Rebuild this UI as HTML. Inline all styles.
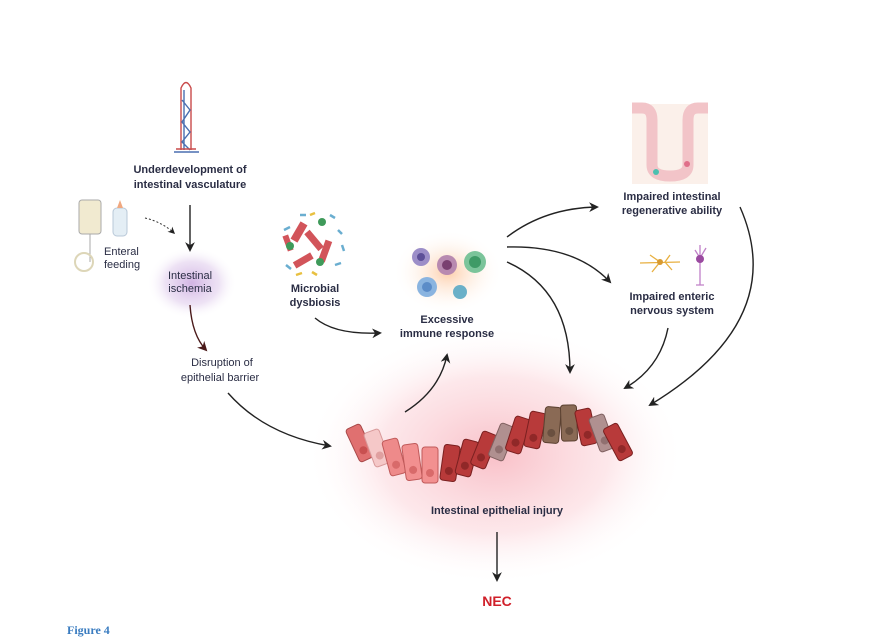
<!DOCTYPE html>
<html><head><meta charset="utf-8"><style>
html,body{margin:0;padding:0;background:#fff;}
svg{display:block;}
text{font-family:"Liberation Sans",sans-serif;fill:#2a2d44;}
.b{font-weight:bold;font-size:11px;}
.r{font-size:11px;}
</style></head><body>
<svg width="878" height="638" viewBox="0 0 878 638" xmlns="http://www.w3.org/2000/svg">
<defs>
<radialGradient id="pink" cx="50%" cy="50%" r="50%">
<stop offset="0" stop-color="#f7b0ba" stop-opacity="0.8"/>
<stop offset="0.6" stop-color="#fbd0d6" stop-opacity="0.5"/>
<stop offset="1" stop-color="#fff" stop-opacity="0"/>
</radialGradient>
<radialGradient id="purp" cx="50%" cy="50%" r="50%">
<stop offset="0" stop-color="#d2b4e4" stop-opacity="1"/>
<stop offset="0.6" stop-color="#e6d6f0" stop-opacity="0.7"/>
<stop offset="1" stop-color="#fff" stop-opacity="0"/>
</radialGradient>
<radialGradient id="orng" cx="50%" cy="50%" r="50%">
<stop offset="0" stop-color="#fcc8a0" stop-opacity="0.9"/>
<stop offset="1" stop-color="#fff" stop-opacity="0"/>
</radialGradient>
<marker id="ah" viewBox="0 0 10 10" refX="8" refY="5" markerWidth="7" markerHeight="7" orient="auto">
<path d="M0,0 L10,5 L0,10 L3,5 z" fill="#222"/></marker>
<marker id="ahr" viewBox="0 0 10 10" refX="8" refY="5" markerWidth="7" markerHeight="7" orient="auto">
<path d="M0,0 L10,5 L0,10 L3,5 z" fill="#4a1a1a"/></marker>
</defs>

<ellipse cx="495" cy="455" rx="190" ry="130" fill="url(#pink)"/>
<ellipse cx="192" cy="283" rx="45" ry="36" fill="url(#purp)"/>
<ellipse cx="448" cy="272" rx="55" ry="42" fill="url(#orng)"/>

<!-- vasculature -->
<g fill="none" stroke-width="1.4">
<path d="M181,150 L181,88 Q186,77 191,88 L191,150" stroke="#c94a4a"/>
<path d="M184,150 L184,90 M182,100 L190,110 L182,122 L190,132 L182,142 L190,150" stroke="#4a6fb0"/>
<path d="M174,152 L199,152" stroke="#4a6fb0"/>
<path d="M176,149 L196,149" stroke="#c94a4a"/>
</g>
<text class="b" x="190" y="173" text-anchor="middle">Underdevelopment of</text>
<text class="b" x="190" y="188" text-anchor="middle">intestinal vasculature</text>

<!-- feeding -->
<rect x="79" y="200" width="22" height="34" rx="3" fill="#f1ead0" stroke="#aaa"/>
<path d="M90,234 L90,262" stroke="#aaa"/>
<circle cx="84" cy="262" r="9" fill="none" stroke="#ddd6b8" stroke-width="2"/>
<rect x="113" y="208" width="14" height="28" rx="4" fill="#e4eef5" stroke="#b8c8d8"/>
<path d="M117,208 L120,200 L123,208z" fill="#f0a880"/>
<text class="r" x="104" y="255">Enteral</text>
<text class="r" x="104" y="268">feeding</text>
<path d="M145,218 Q162,222 174,233" fill="none" stroke="#333" stroke-dasharray="2,2" marker-end="url(#ah)"/>

<text class="r" x="190" y="279" text-anchor="middle">Intestinal</text>
<text class="r" x="190" y="292" text-anchor="middle">ischemia</text>
<text class="r" x="222" y="366" text-anchor="middle">Disruption of</text>
<text class="r" x="220" y="381" text-anchor="middle">epithelial barrier</text>

<!-- microbes -->
<g>
<rect x="295" y="222" width="8" height="20" fill="#d2545a" transform="rotate(30 299 232)"/>
<rect x="310" y="230" width="7" height="22" fill="#d2545a" transform="rotate(-40 313 240)"/>
<rect x="322" y="240" width="7" height="22" fill="#d2545a" transform="rotate(20 325 250)"/>
<rect x="300" y="250" width="7" height="20" fill="#d2545a" transform="rotate(60 303 260)"/>
<rect x="285" y="235" width="6" height="16" fill="#d2545a" transform="rotate(-20 288 243)"/>
<circle cx="290" cy="246" r="4" fill="#3f9a5a"/><circle cx="322" cy="222" r="4" fill="#3f9a5a"/>
<circle cx="320" cy="262" r="4" fill="#3f9a5a"/>
<path d="M284,230 l6,-3 M338,230 l4,4 M286,265 l5,4 M335,265 l6,-2 M300,215 l6,0 M330,215 l5,3 M342,245 l2,6" stroke="#6aaed0" stroke-width="2.5"/>
<path d="M296,275 l6,-2 M312,272 l5,3 M310,215 l5,-2" stroke="#e8c040" stroke-width="2.5"/>
</g>
<text class="b" x="315" y="292" text-anchor="middle">Microbial</text>
<text class="b" x="315" y="306" text-anchor="middle">dysbiosis</text>

<!-- immune cells -->
<circle cx="421" cy="257" r="9" fill="#9c8ec8"/><circle cx="421" cy="257" r="4" fill="#5d4f98"/>
<circle cx="447" cy="265" r="10" fill="#b88ab0"/><circle cx="447" cy="265" r="5" fill="#7a4070"/>
<circle cx="475" cy="262" r="11" fill="#7bc49a"/><circle cx="475" cy="262" r="6" fill="#3e9a66"/>
<circle cx="427" cy="287" r="10" fill="#8ab4e0"/><circle cx="427" cy="287" r="5" fill="#5b8cc8"/>
<circle cx="460" cy="292" r="7" fill="#6ab0c8"/>
<text class="b" x="447" y="323" text-anchor="middle">Excessive</text>
<text class="b" x="447" y="337" text-anchor="middle">immune response</text>

<!-- crypt -->
<rect x="632" y="104" width="76" height="80" fill="#fbf0ea"/>
<path d="M632,108 L642,108 Q652,108 652,120 L652,165 Q652,176 670,176 Q688,176 688,165 L688,120 Q688,108 698,108 L708,108" fill="none" stroke="#f2c4c8" stroke-width="11"/>
<circle cx="656" cy="172" r="3" fill="#4cc0b0"/><circle cx="687" cy="164" r="3" fill="#e0708a"/>
<text class="b" x="672" y="200" text-anchor="middle">Impaired intestinal</text>
<text class="b" x="672" y="214" text-anchor="middle">regenerative ability</text>

<!-- neurons -->
<g stroke="#e8b040" stroke-width="1.3" fill="none">
<path d="M640,263 L680,262 M650,255 L660,262 L652,272 M670,255 L665,262 L672,270"/></g>
<circle cx="660" cy="262" r="3" fill="#d89a30"/>
<g stroke="#c080c8" stroke-width="1.3" fill="none">
<path d="M700,245 L700,285 M695,250 L700,258 L706,248 M696,285 L704,285"/></g>
<circle cx="700" cy="259" r="4" fill="#9a4aa0"/>
<text class="b" x="672" y="300" text-anchor="middle">Impaired enteric</text>
<text class="b" x="672" y="314" text-anchor="middle">nervous system</text>

<!-- epithelial cells -->
<g stroke-width="1">
<g transform="translate(360,443) rotate(-25)"><rect x="-8" y="-18" width="16" height="36" rx="3" fill="#e07070" stroke="#a84848"/><circle cx="0" cy="8" r="4" fill="#c85050"/></g>
<g transform="translate(377,448) rotate(-20)"><rect x="-8" y="-18" width="16" height="36" rx="3" fill="#f5c8c8" stroke="#d89a9a"/><circle cx="0" cy="8" r="4" fill="#e0a0a0"/></g>
<g transform="translate(394,457) rotate(-15)"><rect x="-8" y="-18" width="16" height="36" rx="3" fill="#ee8a8a" stroke="#c05a5a"/><circle cx="0" cy="8" r="4" fill="#d86a6a"/></g>
<g transform="translate(412,462) rotate(-8)"><rect x="-8" y="-18" width="16" height="36" rx="3" fill="#f29090" stroke="#c05a5a"/><circle cx="0" cy="8" r="4" fill="#d86a6a"/></g>
<g transform="translate(430,465) rotate(0)"><rect x="-8" y="-18" width="16" height="36" rx="3" fill="#f29090" stroke="#c05a5a"/><circle cx="0" cy="8" r="4" fill="#d86a6a"/></g>
<g transform="translate(450,463) rotate(8)"><rect x="-8" y="-18" width="16" height="36" rx="3" fill="#b83a3a" stroke="#7a2020"/><circle cx="0" cy="8" r="4" fill="#902828"/></g>
<g transform="translate(467,458) rotate(15)"><rect x="-8" y="-18" width="16" height="36" rx="3" fill="#b83a3a" stroke="#7a2020"/><circle cx="0" cy="8" r="4" fill="#902828"/></g>
<g transform="translate(484,450) rotate(22)"><rect x="-8" y="-18" width="16" height="36" rx="3" fill="#b83a3a" stroke="#7a2020"/><circle cx="0" cy="8" r="4" fill="#902828"/></g>
<g transform="translate(502,442) rotate(22)"><rect x="-8" y="-18" width="16" height="36" rx="3" fill="#b09090" stroke="#806060"/><circle cx="0" cy="8" r="4" fill="#907070"/></g>
<g transform="translate(518,435) rotate(18)"><rect x="-8" y="-18" width="16" height="36" rx="3" fill="#b83a3a" stroke="#7a2020"/><circle cx="0" cy="8" r="4" fill="#902828"/></g>
<g transform="translate(535,430) rotate(12)"><rect x="-8" y="-18" width="16" height="36" rx="3" fill="#b83a3a" stroke="#7a2020"/><circle cx="0" cy="8" r="4" fill="#902828"/></g>
<g transform="translate(552,425) rotate(5)"><rect x="-8" y="-18" width="16" height="36" rx="3" fill="#8a6a55" stroke="#5a4030"/><circle cx="0" cy="8" r="4" fill="#6a5040"/></g>
<g transform="translate(569,423) rotate(-2)"><rect x="-8" y="-18" width="16" height="36" rx="3" fill="#8a6a55" stroke="#5a4030"/><circle cx="0" cy="8" r="4" fill="#6a5040"/></g>
<g transform="translate(586,427) rotate(-12)"><rect x="-8" y="-18" width="16" height="36" rx="3" fill="#b83a3a" stroke="#7a2020"/><circle cx="0" cy="8" r="4" fill="#902828"/></g>
<g transform="translate(602,433) rotate(-20)"><rect x="-8" y="-18" width="16" height="36" rx="3" fill="#b09090" stroke="#806060"/><circle cx="0" cy="8" r="4" fill="#907070"/></g>
<g transform="translate(618,442) rotate(-28)"><rect x="-8" y="-18" width="16" height="36" rx="3" fill="#b83a3a" stroke="#7a2020"/><circle cx="0" cy="8" r="4" fill="#902828"/></g>
</g>
<text class="b" x="497" y="514" text-anchor="middle">Intestinal epithelial injury</text>
<text x="497" y="606" text-anchor="middle" font-weight="bold" font-size="14" style="fill:#d0202a">NEC</text>
<text x="67" y="634" font-weight="bold" font-size="12" style="fill:#3a7cc0;font-family:'Liberation Serif',serif">Figure 4</text>

<!-- arrows -->
<g fill="none" stroke="#222" stroke-width="1.4" marker-end="url(#ah)">
<path d="M190,205 L190,250"/>
<path d="M228,393 Q265,435 330,446"/>
<path d="M315,318 Q335,335 380,333"/>
<path d="M405,412 Q440,390 447,355"/>
<path d="M507,237 Q545,208 597,207"/>
<path d="M507,247 Q575,245 610,282"/>
<path d="M507,262 Q570,290 570,372"/>
<path d="M740,207 Q790,320 650,405"/>
<path d="M668,328 Q660,368 625,388"/>
<path d="M497,532 L497,580"/>
</g>
<path d="M190,305 Q192,335 206,350" fill="none" stroke="#4a1a1a" stroke-width="1.4" marker-end="url(#ahr)"/>
</svg>
</body></html>
